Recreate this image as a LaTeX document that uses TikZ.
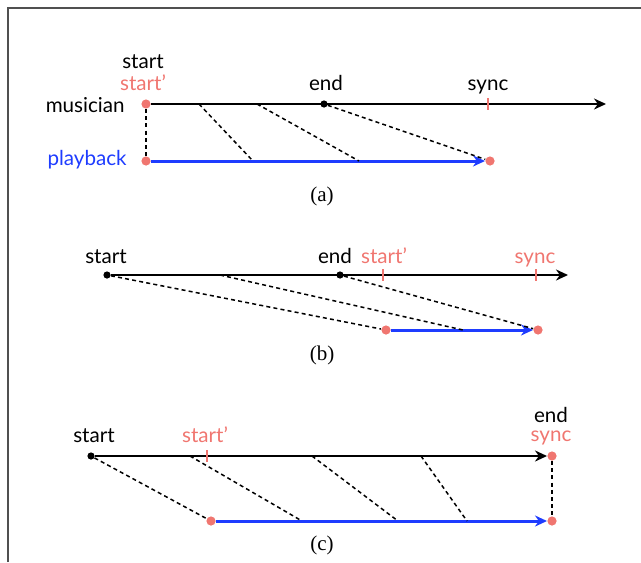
\documentclass[tikz,border=0pt]{standalone}
\usepackage{fontspec}
\setmainfont{Liberation Serif}
\newfontfamily\gillfont{Lato}
\usetikzlibrary{arrows.meta}

\definecolor{salmon}{RGB}{240,118,112}
\definecolor{playblue}{RGB}{30,60,255}
\definecolor{framegray}{RGB}{80,80,80}

\tikzset{
  lbl/.style={font=\gillfont\fontsize{10.3}{12}\selectfont, inner sep=0pt, anchor=base},
  sublbl/.style={font=\fontsize{10.5}{12}\selectfont, inner sep=0pt, anchor=base},
  bdot/.style={circle, fill=black, inner sep=0pt, minimum size=3.6pt},
  pdot/.style={circle, fill=salmon, inner sep=0pt, minimum size=4.6pt},
  pmark/.style={rectangle, fill=salmon, inner sep=0pt, minimum width=1.1pt, minimum height=6pt},
  timeline/.style={line width=1.3pt, -{Stealth[length=6pt,width=5.5pt]}},
  playline/.style={playblue, line width=1.5pt, -{Stealth[length=6pt,width=5.5pt]}},
  msg/.style={line width=0.75pt, dash pattern=on 2pt off 1.6pt}
}

\begin{document}
\begin{tikzpicture}[x=0.5pt, y=-0.5pt]
\useasboundingbox (0,0) rectangle (641,562);
\draw[framegray, line width=0.8pt] (8,562) -- (8,8) -- (641,8);

% (a)
\node[pdot] (a1) at (146,104) {};
\node[pdot] (a2) at (146,161) {};
\node[bdot] (a3) at (324,104) {};
\node[pdot] (a4) at (490,161) {};
\coordinate (a5) at (606,104);
\coordinate (a6) at (488,104);
\coordinate (a7) at (199,104);
\coordinate (a8) at (253,161);
\coordinate (a9) at (257,104);
\coordinate (a10) at (359,161);
\draw[timeline] (a1) -- (a5);
\draw[playline] (a2) -- (a4);
\draw[msg] (a1) -- (a2);
\draw[msg] (a7) -- (a8);
\draw[msg] (a9) -- (a10);
\draw[msg] (a3) -- (a4);
\node[pmark] at (a6) {};
\node[lbl] at (143,68) {start};
\node[lbl, salmon] at (143,90) {start’};
\node[lbl] at (326,90) {end};
\node[lbl] at (488,90) {sync};
\node[lbl, anchor=base east] at (125,112) {musician};
\node[lbl, anchor=base east, playblue] at (127,165) {playback};
\node[sublbl] at (322,201) {(a)};

% (b)
\node[bdot] (b1) at (107,275) {};
\node[bdot] (b2) at (340,275) {};
\node[pdot] (b3) at (386,330) {};
\node[pdot] (b4) at (538,330) {};
\coordinate (b5) at (568,275);
\coordinate (b6) at (383,275);
\coordinate (b7) at (536,275);
\coordinate (b8) at (220,275);
\coordinate (b9) at (463,330);
\draw[timeline] (b1) -- (b5);
\draw[playline] (b3) -- (b4);
\draw[msg] (b1) -- (b3);
\draw[msg] (b8) -- (b9);
\draw[msg] (b2) -- (b4);
\node[pmark] at (b6) {};
\node[pmark] at (b7) {};
\node[lbl] at (106,263) {start};
\node[lbl] at (335,263) {end};
\node[lbl, salmon] at (384,263) {start’};
\node[lbl, salmon] at (535,263) {sync};
\node[sublbl] at (322,360) {(b)};

% (c)
\node[bdot] (c1) at (91,456) {};
\node[pdot] (c2) at (552,456) {};
\node[pdot] (c3) at (211,521) {};
\node[pdot] (c4) at (552,521) {};
\coordinate (c5) at (207,456);
\coordinate (c6) at (190,456);
\coordinate (c7) at (302,521);
\coordinate (c8) at (312,456);
\coordinate (c9) at (398,521);
\coordinate (c10) at (421,456);
\coordinate (c11) at (467,521);
\draw[timeline] (c1) -- (c2);
\draw[playline] (c3) -- (c4);
\draw[msg] (c1) -- (c3);
\draw[msg] (c6) -- (c7);
\draw[msg] (c8) -- (c9);
\draw[msg] (c10) -- (c11);
\draw[msg] (c2) -- (c4);
\node[pmark] at (c5) {};
\node[lbl] at (94,442) {start};
\node[lbl, salmon] at (205,442) {start’};
\node[lbl] at (551,422) {end};
\node[lbl, salmon] at (551,441) {sync};
\node[sublbl] at (322,550) {(c)};

\end{tikzpicture}
\end{document}
